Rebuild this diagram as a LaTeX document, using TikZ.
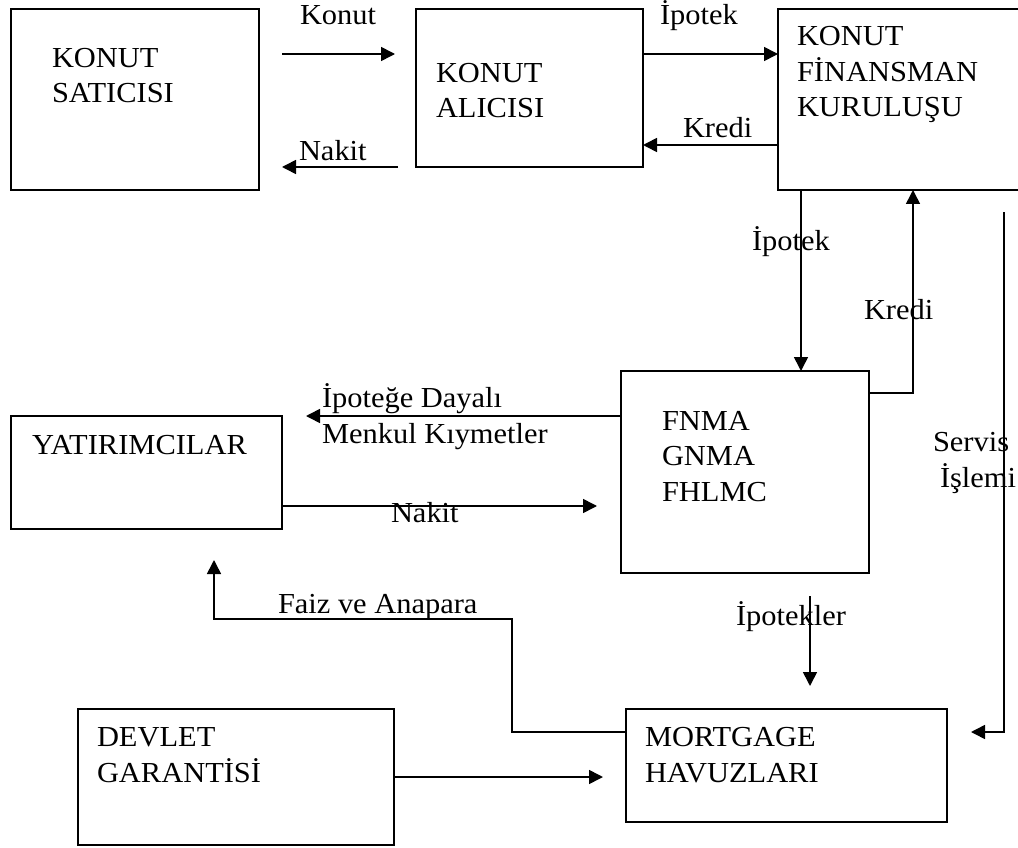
\documentclass[tikz,border=0pt]{standalone}
\usepackage{fontspec}
\setmainfont{Liberation Serif}[FakeStretch=1.05]
\usetikzlibrary{arrows.meta}
\tikzset{
  box/.style={draw, line width=1.6pt, inner sep=0pt, outer sep=0pt, anchor=north west},
  txt/.style={inner sep=0pt, outer sep=0pt, anchor=base west, align=left,
    font=\fontsize{29}{35.5}\selectfont},
  arr/.style={line width=1.6pt, -{Triangle[length=14pt,width=14pt]}},
}
\begin{document}
\begin{tikzpicture}[x=1pt,y=-1pt]
\useasboundingbox (0,0) rectangle (1018,848);
% boxes
\node[box, minimum width=248pt, minimum height=181pt] (sat) at (11,9) {};
\node[box, minimum width=227pt, minimum height=158pt] (alic) at (416,9) {};
\node[box, minimum width=262pt, minimum height=181pt] (fin) at (778,9) {};
\node[box, minimum width=271pt, minimum height=113pt] (yat) at (11,416) {};
\node[box, minimum width=248pt, minimum height=202pt] (fnma) at (621,371) {};
\node[box, minimum width=321pt, minimum height=113pt] (mort) at (626,709) {};
\node[box, minimum width=316pt, minimum height=136pt] (dev) at (78,709) {};
% box texts (base anchor = baseline of last line)
\node[txt] (tsat) at (52,103) {KONUT\\SATICISI};
\node[txt] (talic) at (436,118) {KONUT\\ALICISI};
\node[txt] (tfin) at (797,117) {KONUT\\FİNANSMAN\\KURULUŞU};
\node[txt] (tyat) at (32,454) {YATIRIMCILAR};
\node[txt] (tfnma) at (662,501) {FNMA\\GNMA\\FHLMC};
\node[txt] (tmort) at (645,782) {MORTGAGE\\HAVUZLARI};
\node[txt] (tdev) at (97,782) {DEVLET\\GARANTİSİ};
% helper coordinates
\coordinate (yA) at (0,54);
\coordinate (yK) at (0,145);
\coordinate (xI) at (801,0);
\coordinate (yKr) at (0,393);
\coordinate (xK) at (913,0);
\coordinate (yM) at (0,416);
\coordinate (yN) at (0,506);
\coordinate (yS) at (0,732);
\coordinate (yD) at (0,777);
\coordinate (konS) at (282,54);
\coordinate (konE) at (395,54);
\coordinate (nakS) at (398,167);
\coordinate (nakE) at (282,167);
\coordinate (mbsE) at (306,416);
\coordinate (nak2E) at (597,506);
\coordinate (faizC) at (512,619);
\coordinate (faizE) at (214,560);
\coordinate (ipS) at (810,596);
\coordinate (ipE) at (810,686);
\coordinate (devE) at (603,777);
\coordinate (serS) at (1004,212);
\coordinate (serE) at (971,732);
% connectors
\draw[arr] (konS) -- (konE);
\draw[arr] (nakS) -- (nakE);
\draw[arr] (alic.east |- yA) -- (fin.west |- yA);
\draw[arr] (fin.west |- yK) -- (alic.east |- yK);
\draw[arr] (fin.south -| xI) -- (fnma.north -| xI);
\draw[arr] (fnma.east |- yKr) -| (fin.south -| xK);
\draw[arr] (fnma.west |- yM) -- (mbsE);
\draw[arr] (yat.east |- yN) -- (nak2E);
\draw[arr] (mort.west |- yS) -| (faizC) -| (faizE);
\draw[arr] (ipS) -- (ipE);
\draw[arr] (dev.east |- yD) -- (devE);
\draw[arr] (serS) |- (serE);
% connector labels
\node[txt] (lkonut) at (300,25) {Konut};
\node[txt] (lnakit) at (299,161) {Nakit};
\node[txt] (lipotek) at (660,25) {İpotek};
\node[txt] (lkredi) at (683,138) {Kredi};
\node[txt] (lipotek2) at (752,251) {İpotek};
\node[txt] (lkredi2) at (864,319) {Kredi};
\node[txt] (lmbs) at (322,443) {İpoteğe Dayalı\\Menkul Kıymetler};
\node[txt] (lnakit2) at (391,522) {Nakit};
\node[txt] (lfaiz) at (278,613) {Faiz ve Anapara};
\node[txt] (lipotekler) at (736,625) {İpotekler};
\node[txt] (lservis) at (933,487) {Servis\\\hspace*{7pt}İşlemi};
\end{tikzpicture}
\end{document}
